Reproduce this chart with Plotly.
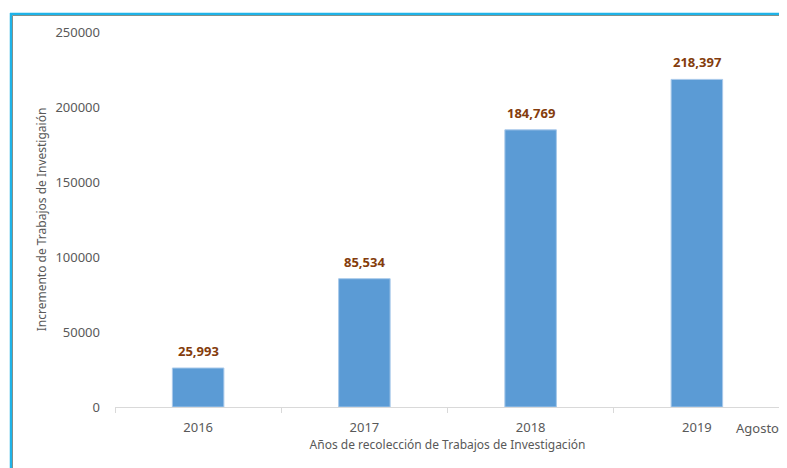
import plotly.graph_objects as go

years = ["2016", "2017", "2018", "2019"]
values = [25993, 85534, 184769, 218397]
value_labels = ["25,993", "85,534", "184,769", "218,397"]
y_ticks = [0, 50000, 100000, 150000, 200000, 250000]

OFF = 8  # page body margin in the browser
W, H = 787 - OFF, 468 - OFF
L, R, T, B = 115 - OFF, 7, 32 - OFF, 61
pw, ph = W - L - R, H - T - B

def px_to_paper_x(px):
    return (px - OFF - L) / pw

def px_to_paper_y(py):
    return (H - B - (py - OFF)) / ph

font_family = "Noto Sans, Open Sans, sans-serif"

fig = go.Figure()
fig.add_trace(go.Bar(
    x=years, y=values,
    marker=dict(color="#5b9bd5", line=dict(width=1, color="#a8c9ea")),
))

annotations = [
    dict(text=lab, x=i, y=v, xref="x", yref="y", showarrow=False,
         xanchor="center", yanchor="bottom", yshift=6,
         font=dict(family=font_family, size=13, color="#843c0c", weight="bold"))
    for i, (v, lab) in enumerate(zip(values, value_labels))
]
annotations.append(
    dict(text="Agosto", xref="paper", yref="paper",
         x=px_to_paper_x(757), y=px_to_paper_y(428),
         showarrow=False, xanchor="center", yanchor="middle",
         font=dict(size=13, color="#595959"))
)

blue = "#1fb3e8"
brown = "#a5866c"

fig.update_layout(
    width=W, height=H,
    margin=dict(l=L, r=R, t=T, b=B, pad=0),
    paper_bgcolor="white", plot_bgcolor="white",
    bargap=0.69,
    showlegend=False,
    font=dict(family=font_family, color="#595959", size=12),
    xaxis=dict(
        type="category", range=[-0.5, len(years) - 0.5], automargin=False,
        showline=True, linecolor="#d9d9d9", linewidth=1,
        ticks="outside", tickson="boundaries", ticklen=5, tickcolor="#d9d9d9",
        tickfont=dict(size=13, color="#595959"), ticklabelstandoff=8, tickangle=0,
        showgrid=False,
        title=dict(text="Años de recolección de Trabajos de Investigación",
                   font=dict(size=12, color="#595959"), standoff=6),
    ),
    yaxis=dict(
        range=[0, 250000], tickvals=y_ticks, ticktext=[str(v) for v in y_ticks],
        showgrid=False, showline=False, zeroline=False, ticks="", automargin=False,
        tickfont=dict(size=13, color="#595959"), ticklabelstandoff=14,
        title=dict(text="Incremento de Trabajos de Investigaión",
                   font=dict(size=12, color="#595959"), standoff=6),
    ),
    shapes=[
        dict(type="line", xref="paper", yref="paper",
             x0=px_to_paper_x(12.5), x1=px_to_paper_x(800),
             y0=px_to_paper_y(15.5), y1=px_to_paper_y(15.5),
             line=dict(color=brown, width=1)),
        dict(type="line", xref="paper", yref="paper",
             x0=px_to_paper_x(12.5), x1=px_to_paper_x(12.5),
             y0=px_to_paper_y(15.5), y1=px_to_paper_y(480),
             line=dict(color=brown, width=1)),
        dict(type="line", xref="paper", yref="paper",
             x0=px_to_paper_x(10), x1=px_to_paper_x(800),
             y0=px_to_paper_y(14), y1=px_to_paper_y(14),
             line=dict(color=blue, width=2.5)),
        dict(type="line", xref="paper", yref="paper",
             x0=px_to_paper_x(11), x1=px_to_paper_x(11),
             y0=px_to_paper_y(13), y1=px_to_paper_y(480),
             line=dict(color=blue, width=2.5)),
    ],
    annotations=annotations,
)

fig.write_html("out.html")
